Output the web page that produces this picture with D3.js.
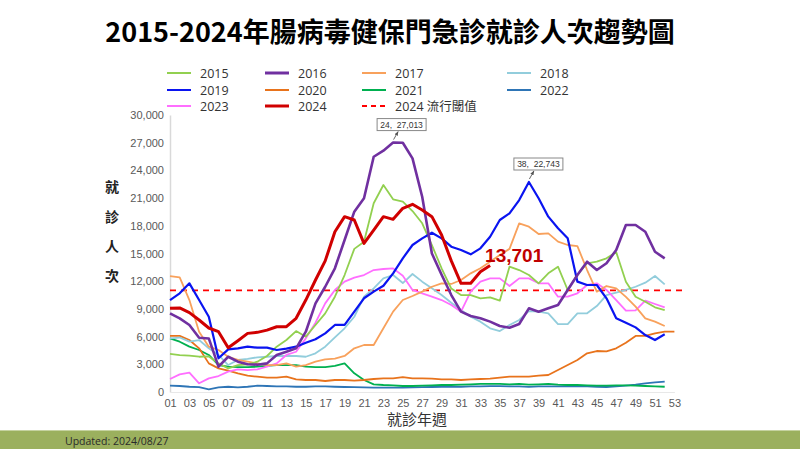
<!DOCTYPE html>
<html><head><meta charset="utf-8">
<script src="https://cdn.jsdelivr.net/npm/d3@7"></script>
<style>
html,body{margin:0;padding:0;background:#fff;}
svg{display:block;font-family:"Noto Sans CJK TC","Noto Sans",Arial,sans-serif;}
</style></head>
<body><svg id="c" width="800" height="449"></svg>
<script>
const title = "2015-2024年腸病毒健保門急診就診人次趨勢圖";
const weekTicks = ["01","03","05","07","09","11","13","15","17","19","21","23","25","27","29","31","33","35","37","39","41","43","45","47","49","51","53"];
const yTicks = [0,3000,6000,9000,12000,15000,18000,21000,24000,27000,30000];
const threshold = 11000;

const s2015 = [4120,4000,3950,3820,3850,3100,2560,2920,3000,3280,3900,4910,5630,6600,5990,7260,8520,10320,12670,15500,16280,20440,22420,20870,20610,19600,18270,15900,13400,11200,10500,10500,10150,10250,9890,13570,13210,12670,11770,12850,13570,11050,12700,13940,14110,14480,15150,11950,10320,9780,9170,8880];
const s2016 = [8520,7980,7260,5880,5800,2740,3820,3280,3000,2960,3100,4000,4360,4730,6530,9600,11400,13400,16460,19530,20980,25480,26140,27013,26990,25300,21150,15000,12700,10500,8700,8230,7980,7620,7150,6960,7360,9060,8700,9060,9420,11050,12670,14110,13210,13940,15380,18090,18090,17360,15190,14480];
const s2017 = [12560,12420,9960,6530,4910,4550,3820,3470,3280,3100,2920,2920,3100,2740,2920,3280,3540,3610,3900,4730,5090,5090,6900,8700,9960,10400,10870,11400,11770,11700,12130,12850,13400,14110,14840,15500,18270,17900,17110,17180,16280,15920,15800,13210,10870,11480,11230,10300,9240,7980,7620,7150];
const s2018 = [5800,5900,5450,5630,4730,4010,2920,3470,3580,3760,3820,3900,3900,3900,3820,4190,4910,5920,6900,8150,10320,11230,12310,12670,11800,12780,11950,11230,10500,9670,8880,8150,7620,6900,6600,7260,7800,8770,8700,8520,7360,7360,8520,8520,9310,10500,10760,11050,11400,11840,12560,11660];
const s2019 = [9960,10690,11770,9960,8150,3650,4620,4730,4910,4800,4800,4550,4700,4910,5340,5710,6350,7260,7260,8700,10150,10870,11510,12850,14480,15920,16640,17250,16640,15740,15380,14910,15560,16820,18630,19350,20790,22743,20980,18990,17730,16640,11950,11590,11590,10150,7980,7510,7000,6170,5630,6250];
const s2020 = [6070,6070,5630,4730,3100,2560,2310,2020,1770,1660,1550,1550,1660,1370,1300,1300,1190,1300,1300,1230,1300,1410,1480,1480,1600,1480,1480,1440,1370,1370,1300,1370,1410,1440,1550,1660,1660,1660,1770,1840,2380,2920,3470,4190,4440,4400,4730,5340,6070,6070,6350,6530,6530];
const s2021 = [5810,5450,4910,4550,4010,2920,2740,2700,2700,2740,2820,2920,2920,2920,2740,2700,2700,2820,3100,2020,1300,830,760,720,650,650,700,720,760,760,800,830,870,870,870,830,870,800,830,870,800,760,760,720,700,700,720,720,700,650,620,570];
const s2022 = [680,650,570,520,290,500,570,500,570,680,650,620,600,570,570,600,620,570,540,520,500,480,470,470,480,500,520,540,560,560,570,600,620,640,640,620,600,560,600,620,600,640,620,600,570,540,600,700,800,940,1050,1120];
const s2023 = [1410,1910,2090,940,1480,1730,2200,2460,2380,2460,2740,3100,4010,4360,5810,7510,9600,11050,11950,12380,12670,13210,13320,13390,12600,11050,10690,10320,9960,9420,8700,10870,11950,12310,12310,11480,12310,12310,11770,11770,10320,10320,10690,11590,11770,11050,9960,8810,8840,9890,9530,9170];
const s2024 = [9060,9100,8600,7800,6930,6530,4800,5560,6350,6460,6700,7070,7070,7980,9960,12130,14200,17360,18990,18630,16100,17540,18990,18700,19890,20330,19710,18990,17000,14200,11770,11770,13030,13701];

const series = [
  {name:"2015", data:s2015, color:"#92d050", w:1.8},
  {name:"2016", data:s2016, color:"#7030a0", w:2.6},
  {name:"2017", data:s2017, color:"#f8a15c", w:1.8},
  {name:"2018", data:s2018, color:"#92cddc", w:1.8},
  {name:"2019", data:s2019, color:"#0a14f0", w:2.2},
  {name:"2020", data:s2020, color:"#e8731c", w:1.8},
  {name:"2021", data:s2021, color:"#00b050", w:1.8},
  {name:"2022", data:s2022, color:"#2e75b6", w:1.8},
  {name:"2023", data:s2023, color:"#ff6eff", w:1.8},
  {name:"2024", data:s2024, color:"#d00000", w:3}
];
const drawOrder = ["2022","2021","2020","2018","2023","2017","2015","2019","2016","2024"];

const svg = d3.select("#c");
const x = d3.scaleLinear().domain([1,53]).range([170, 674.4]);
const y = d3.scaleLinear().domain([0,30000]).range([392,115]);

// title
svg.append("text").attr("x",390).attr("y",42).attr("text-anchor","middle")
  .attr("font-size",27).attr("font-weight","bold").attr("fill","#000").text(title);

// legend
const legCols = [167,265,362,507];
const legRows = [73,90,106];
const legendItems = series.map(s=>({name:s.name,color:s.color,w:s.w>2.5?3:2,dash:null}))
  .concat([{name:"2024 流行閾值",color:"#ff0000",w:2,dash:"5,4"}]);
legendItems.forEach((d,i)=>{
  const cx = legCols[i%4], cy = legRows[Math.floor(i/4)];
  const g = svg.append("g");
  g.append("line").attr("x1",cx).attr("x2",cx+24).attr("y1",cy).attr("y2",cy)
    .attr("stroke",d.color).attr("stroke-width",d.w).attr("stroke-dasharray",d.dash);
  g.append("text").attr("x",cx+33).attr("y",cy+4.5).attr("font-size",12.5).attr("fill","#333")
    .attr("font-family","'Open Sans','Noto Sans CJK TC',sans-serif").text(d.name);
});

// axes
const yAxis = d3.axisLeft(y).tickValues(yTicks).tickSize(0).tickPadding(6).tickFormat(d3.format(","));
const gy = svg.append("g").attr("transform","translate(170,0)").call(yAxis);
gy.select(".domain").attr("stroke","#d9d9d9").attr("stroke-width",1.5);
gy.selectAll("text").attr("font-size",11).attr("fill","#595959").attr("font-family","Arial,'Liberation Sans',sans-serif");

const xAxis = d3.axisBottom(x).tickValues(weekTicks.map(Number)).tickSize(0).tickPadding(7)
  .tickFormat(d=>String(d).padStart(2,"0"));
const gx = svg.append("g").attr("transform","translate(0,392)").call(xAxis);
gx.select(".domain").attr("stroke","#e8e8e8").attr("stroke-width",1);
gx.selectAll("text").attr("font-size",11).attr("fill","#595959").attr("font-family","Arial,'Liberation Sans',sans-serif");

// axis titles
["就","診","人","次"].forEach((c,i)=>{
  svg.append("text").attr("x",112).attr("y",192+i*29.5).attr("text-anchor","middle")
    .attr("font-size",14).attr("font-weight","bold").attr("fill","#222").text(c);
});
svg.append("text").attr("x",417).attr("y",425).attr("text-anchor","middle")
  .attr("font-size",15).attr("fill","#333").text("就診年週");

// threshold
svg.append("line").attr("x1",x(1)).attr("x2",x(53)+8).attr("y1",y(threshold)).attr("y2",y(threshold))
  .attr("stroke","#ff0000").attr("stroke-width",1.8).attr("stroke-dasharray","6,5");

// lines
const line = d3.line().x((d,i)=>x(i+1)).y(d=>y(d));
drawOrder.forEach(n=>{
  const s = series.find(t=>t.name===n);
  svg.append("path").attr("d",line(s.data)).attr("fill","none")
    .attr("stroke",s.color).attr("stroke-width",s.w).attr("stroke-linejoin","round");
});

// annotations
const defs = svg.append("defs");
defs.append("marker").attr("id","arr").attr("viewBox","0 0 10 10").attr("refX",9).attr("refY",5)
  .attr("markerWidth",5).attr("markerHeight",5).attr("orient","auto")
  .append("path").attr("d","M0,1 L10,5 L0,9 z").attr("fill","#555");
function callout(wk,val,label,dx){
  const px=x(wk), py=y(val);
  const bx=px+dx, by=py-24;
  svg.append("line").attr("x1",px+0.5).attr("y1",py-3).attr("x2",px+5).attr("y2",py-11)
    .attr("stroke","#555").attr("stroke-width",0.9).attr("marker-end","url(#arr)");
  svg.append("rect").attr("x",bx).attr("y",by).attr("width",49).attr("height",12)
    .attr("fill","#fff").attr("stroke","#888").attr("stroke-width",1);
  svg.append("text").attr("x",bx+24.5).attr("y",by+9).attr("text-anchor","middle")
    .attr("font-size",8.5).attr("fill","#333").attr("font-family","Arial,'Liberation Sans',sans-serif")
    .attr("xml:space","preserve").text(label);
}
callout(24,27013,"24,  27,013",-16);
callout(38,22743,"38,  22,743",-15);

svg.append("text").attr("x",x(34)-5).attr("y",y(13701)-3).attr("font-size",19).attr("font-weight","bold")
  .attr("fill","#c00000").attr("font-family","Arial,'Liberation Sans',sans-serif").text("13,701");

// footer
svg.append("rect").attr("x",0).attr("y",431).attr("width",800).attr("height",18).attr("fill","#9bb05e");
svg.append("line").attr("x1",0).attr("x2",800).attr("y1",430.5).attr("y2",430.5).attr("stroke","#c5d2a0").attr("stroke-width",1);
svg.append("text").attr("x",65).attr("y",445).attr("font-size",10.5).attr("fill","#2a2a2a")
  .attr("font-family","'Open Sans',sans-serif").text("Updated: 2024/08/27");
</script></body></html>
